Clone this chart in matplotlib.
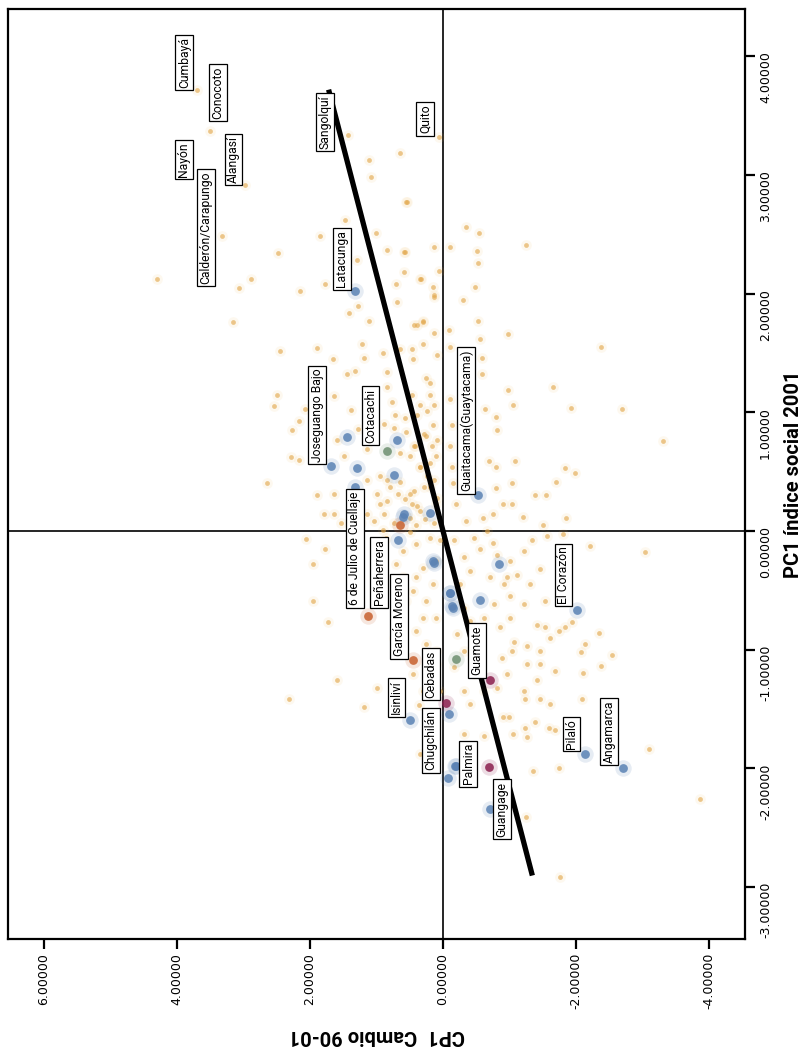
import matplotlib
matplotlib.use("Agg")
import matplotlib.pyplot as plt
from matplotlib.ticker import FixedLocator, FormatStrFormatter

# values: (CP1 Cambio 90-01, PC1 indice social 2001)
orange_cp1 = [3.50, 2.97, 3.32, 3.70, 4.30, 3.15, 3.07, 2.89, 2.48, 2.15, 1.85, 1.77, 1.47, 1.43, 1.12,
              1.08, 0.65, 0.54, 1.00, 0.84, 0.57, 1.30, 0.59, 0.70, 0.14, 0.33, 0.13, 1.28, 1.41, 1.12,
              0.69, 0.39, 0.30, 2.45, 1.90, 1.65, 1.22, 1.19, 0.90, 0.84, 0.64, 0.45, 0.09, 2.50, 2.54,
              2.07, 1.64, 1.44, 1.32, 0.84, 0.77, 0.47, 0.19, 1.39, 1.28, 1.59, 2.17, 2.27, 2.28, 2.17,
              2.65, 1.89, 1.64, 1.49, 0.72, 0.57, 0.39, 0.29, 0.17, 0.89, 0.49, 0.34, 0.14, 1.14, 0.99,
              0.84, 0.89, 0.44, 0.39, 1.14, 1.39, 1.64, 1.79, 1.24, 0.74, 0.94, 0.64, 0.24, 0.09, 0.74,
              1.04, 1.14, 0.24, 0.09, 0.14, 0.14, 0.30, 0.84, 0.79, 0.67, 0.57, 0.47, 0.34, 0.27, 0.14,
              0.49, 0.94, 1.04, 1.54, 0.29, 0.19, 0.42,
              0.06, 0.55, 0.58, 0.34, 0.15, 0.14, 0.06, 0.43, 0.30, 0.46, -0.34, -0.54, -0.10, -0.51,
              -0.53, -1.25, -0.48, -0.30, -0.52, -0.09, -0.98, -2.37, -0.56, -0.58, -0.58, -0.11, -0.98,
              -1.05, -1.66, -1.93, -2.69, -3.31, -0.79, -0.81, -0.63, -1.08, -0.69, -0.80, -1.84, -1.98,
              -1.70, -1.38, -1.55, -1.04, -1.85, -1.20, -1.03, -0.80, -0.90, -1.50, -0.60, -0.75, -0.10,
              -0.13, -0.10, -0.13, -0.15, -0.20, -0.35, 0.25, 0.20, 0.35, 0.15, 0.25, 0.10, 0.35, 0.20,
              0.50, 0.10, 0.40, 0.55, 0.43, 0.65,
              2.06, 1.78, 1.95, 1.95, 1.73, 1.59, 2.32, 0.99, 1.19, 0.36, 0.35, 0.45, 0.30, 0.15, 0.60,
              0.73, 0.40, 0.30, 0.25, 0.10, 0.55, 0.60, 0.70, 0.60, 0.40, 0.30, 0.15, 0.45, 0.25, 0.10,
              0.85, 1.00, 0.90, 0.40, 0.10, 0.05, 0.20, 0.50, 0.90, 0.10, 0.05, 0.25,
              -2.21, -3.03, -1.34, -1.56, -0.75, -0.46, -0.16, -1.01, -1.21, -1.46, -1.31, -1.11, -0.91,
              -0.71, -0.41, -0.31, -0.56, -1.01, -1.21, -1.54, -1.41, -1.54, -1.74, -1.94, -2.34, -2.14,
              -2.07, -2.54, -2.37, -2.11, -1.69, -1.46, -1.41, -1.26, -1.06, -0.86, -1.01, -1.26, -1.04,
              -0.89, -0.96, -1.21, -1.24, -1.46, -1.61, -2.09, -1.69, -1.59, -1.39, -1.24, -1.26, -1.05,
              -0.99, -0.90, -0.61, -0.31, -1.36, -1.75, -3.10, -3.86, -1.25, -1.76, -0.81, -0.61, -0.41,
              -0.31, -0.46, -0.16, -0.31, -0.21, -0.41, -0.61, -0.76, -0.31, -0.26, -0.81, -0.66, -1.81,
              -0.96, -1.46, -1.61, -1.84]
orange_pc1 = [3.37, 2.92, 2.49, 3.72, 2.12, 1.76, 2.05, 2.12, 2.34, 2.02, 2.49, 2.08, 2.62, 3.34, 3.13,
              2.98, 3.19, 2.77, 2.51, 2.37, 2.35, 2.28, 2.18, 2.08, 2.39, 2.12, 1.99, 1.90, 1.84, 1.77,
              1.93, 1.74, 1.76, 1.52, 1.54, 1.45, 1.58, 1.46, 1.50, 1.34, 1.53, 1.45, 1.48, 1.15, 1.05,
              1.03, 1.14, 1.32, 1.35, 1.21, 1.09, 1.15, 1.25, 1.02, 0.86, 0.77, 0.93, 0.85, 0.62, 0.60,
              0.40, 0.30, 0.31, 0.63, 0.98, 0.95, 0.98, 0.82, 0.72, 0.90, 0.63, 0.54, 0.43, 0.43, 0.31,
              0.25, 0.14, 0.34, 0.21, 0.14, 0.28, 0.14, 0.14, 0.07, 0.07, 0.46, 0.41, 0.46, 0.28, 0.87,
              0.82, 0.69, 1.01, 0.77, 1.06, 1.67, 1.58, 0.43, 0.37, 0.31, 0.27, 0.23, 0.17, 0.10, 0.07,
              0.11, 0.23, 0.08, 0.07, 0.37, 0.57, 0.72,
              3.32, 2.77, 2.35, 2.12, 2.06, 1.97, 2.19, 1.74, 1.77, 1.53, 2.56, 2.51, 2.39, 2.36,
              2.26, 2.41, 2.06, 1.95, 1.77, 1.69, 1.66, 1.55, 1.62, 1.46, 1.32, 1.55, 1.19,
              1.06, 1.21, 1.04, 1.03, 0.76, 0.96, 0.85, 1.03, 0.59, 0.59, 0.54, 0.53, 0.49,
              0.41, 0.30, 0.30, 0.40, 0.11, 0.12, 0.23, 0.36, 0.23, 0.05, 0.11, 0.14, 1.11,
              0.89, 0.72, 0.54, 0.40, 0.23, 0.08, 1.29, 1.15, 1.06, 0.89, 0.80, 0.63, 0.54, 0.37,
              0.31, 0.23, 0.05, 0.83, 0.72, 0.66,
              -0.07, -0.15, -0.28, -0.59, -0.77, -1.26, -1.42, -1.32, -1.48, -1.47, -1.88, -1.21, -1.35, -1.24, -0.81,
              -0.90, -0.84, -0.73, -0.95, -1.01, -0.59, -0.39, -0.28, -0.17, -0.11, -0.31, -0.45, -0.51, -0.59, -0.73,
              -0.06, -0.11, -0.20, -0.39, -0.25, -0.08, -0.06, -0.01, 0.01, -1.12, -1.35, -1.12,
              -0.13, -0.18, -0.08, -0.04, -0.10, -0.06, -0.08, -0.25, -0.17, -0.32, -0.45, -0.37, -0.45,
              -0.39, -0.34, -0.22, -0.15, -0.55, -0.62, -0.59, -0.79, -0.81, -0.84, -0.77, -0.86, -0.95,
              -1.02, -1.05, -1.14, -1.20, -1.18, -1.12, -1.26, -0.97, -0.94, -0.81, -0.73, -1.12, -1.01,
              -1.07, -1.21, -1.35, -1.42, -1.42, -1.46, -1.42, -1.68, -1.66, -1.61, -1.66, -1.74, -1.71,
              -1.57, -1.57, -1.73, -1.71, -2.02, -2.00, -1.84, -2.26, -2.41, -2.92, -1.32, -1.35, -1.46,
              -1.35, -1.21, -1.15, -1.01, -0.87, -0.76, -0.73, -0.62, -0.65, -0.45, -0.20, 0.00, -0.03,
              -0.39, -1.01, -0.90, -0.81]

blue_cp1 = [1.33, 1.44, 1.69, 1.30, 1.32, 0.69, 0.74, 0.59, 0.20, -0.53, 0.60, 0.68, 0.15, -0.10,
            -0.13, 0.50, -0.09, -0.18, -0.08, -0.84, -0.11, -0.55, -0.15, -2.02, -2.13, -0.20, -2.71,
            -0.71, 0.14]
blue_pc1 = [2.02, 0.79, 0.55, 0.53, 0.37, 0.77, 0.47, 0.14, 0.15, 0.30, 0.12, -0.08, -0.25, -0.52,
            -0.63, -1.59, -1.54, -1.98, -2.08, -0.28, -0.52, -0.58, -0.65, -0.67, -1.88, -1.98, -2.00,
            -2.34, -0.27]
green_cp1 = [0.84, -0.19]
green_pc1 = [0.67, -1.08]

red_cp1 = [1.13, 0.45, 0.64]
red_pc1 = [-0.72, -1.09, 0.05]
purple_cp1 = [-0.05, -0.70, -0.69]
purple_pc1 = [-1.45, -1.26, -1.99]

# regression line, read at its two ends
fit_cp1 = [-1.343, 1.72]
fit_pc1 = [-2.905, 3.72]

place_names = ["Cumbayá", "Conocoto", "Nayón", "Alangasí", "Calderón/Carapungo", "Sangolquí",
               "Quito", "Latacunga", "Joseguango Bajo", "Cotacachi", "Guaitacama(Guaytacama)",
               "6 de Julio de Cuellaje", "Peñaherrera", "García Moreno", "Cebadas", "Isinliví",
               "Chugchilán", "El Corazón", "Guamote", "Pilaló", "Angamarca", "Palmira", "Guangage"]
place_cp1 = [3.75, 3.24, 3.76, 3.01, 3.43, 1.64, 0.13, 1.38, 1.75, 0.95, -0.49,
             1.19, 0.82, 0.52, 0.04, 0.56, 0.04, -1.95, -0.65, -2.07, -2.64, -0.52, -1.02]
place_pc1 = [3.71, 3.45, 2.96, 2.91, 2.06, 3.20, 3.33, 2.03, 0.56, 0.72, 0.31,
             -0.65, -0.65, -1.08, -1.43, -1.57, -2.04, -0.64, -1.24, -1.86, -1.98, -2.16, -2.60]

x_ticks = [6, 4, 2, 0, -2, -4]
y_ticks = [4, 3, 2, 1, 0, -1, -2, -3]

narrow = ["Roboto", "DejaVu Sans"]

fig = plt.figure(figsize=(8.04, 10.48), dpi=100)
ax = fig.add_axes([8 / 804, 1 - 939 / 1048, 737 / 804, 930 / 1048])
ax.set_xlim(6.54, -4.54)
ax.set_ylim(-3.44, 4.40)

ax.axvline(0, color="black", lw=1.2, zorder=1)
ax.axhline(0, color="black", lw=1.2, zorder=1)

# soft halo + core like the blurred markers of the original
ax.scatter(orange_cp1, orange_pc1, s=60, color="#F2BA55", alpha=0.09, lw=0, zorder=2)
ax.scatter(orange_cp1, orange_pc1, s=12, color="#E2A74A", alpha=0.62, lw=0, zorder=3)
for xs, ys, c in [(blue_cp1, blue_pc1, "#5A82B4"), (green_cp1, green_pc1, "#6E8F70"),
                  (red_cp1, red_pc1, "#C8602E"), (purple_cp1, purple_pc1, "#8A1E4E")]:
    ax.scatter(xs, ys, s=140, color=c, alpha=0.15, lw=0, zorder=4)
    ax.scatter(xs, ys, s=40, color=c, alpha=0.85, lw=0, zorder=5)

ax.plot(fit_cp1, fit_pc1, color="black", lw=3.8, solid_capstyle="butt", zorder=6)

for name, cx, cy in zip(place_names, place_cp1, place_pc1):
    ax.annotate(name, (cx, cy), xytext=(-2, 2), textcoords="offset points",
                rotation=90, rotation_mode="anchor", ha="left", va="bottom",
                fontsize=8.7, family=narrow, zorder=7,
                bbox=dict(boxstyle="square,pad=0.2", fc="white", ec="black", lw=0.9))

for sp in ax.spines.values():
    sp.set_linewidth(1.6)

ax.xaxis.set_major_locator(FixedLocator(x_ticks))
ax.yaxis.set_major_locator(FixedLocator(y_ticks))
ax.xaxis.set_major_formatter(FormatStrFormatter("%.5f"))
ax.yaxis.set_major_formatter(FormatStrFormatter("%.5f"))
ax.yaxis.tick_right()
ax.yaxis.set_label_position("right")
ax.tick_params(axis="both", direction="out", length=7, width=1.6, labelsize=9, labelrotation=90,
               pad=3)

ax.set_xlabel("CP1  Cambio 90-01", fontsize=14.5, fontweight="bold", family=narrow,
              rotation=180, labelpad=12)
ax.set_ylabel("PC1 índice social 2001", fontsize=14.5, fontweight="bold", family=narrow,
              rotation=90, labelpad=9)

fig.savefig("out.png", dpi=100)
